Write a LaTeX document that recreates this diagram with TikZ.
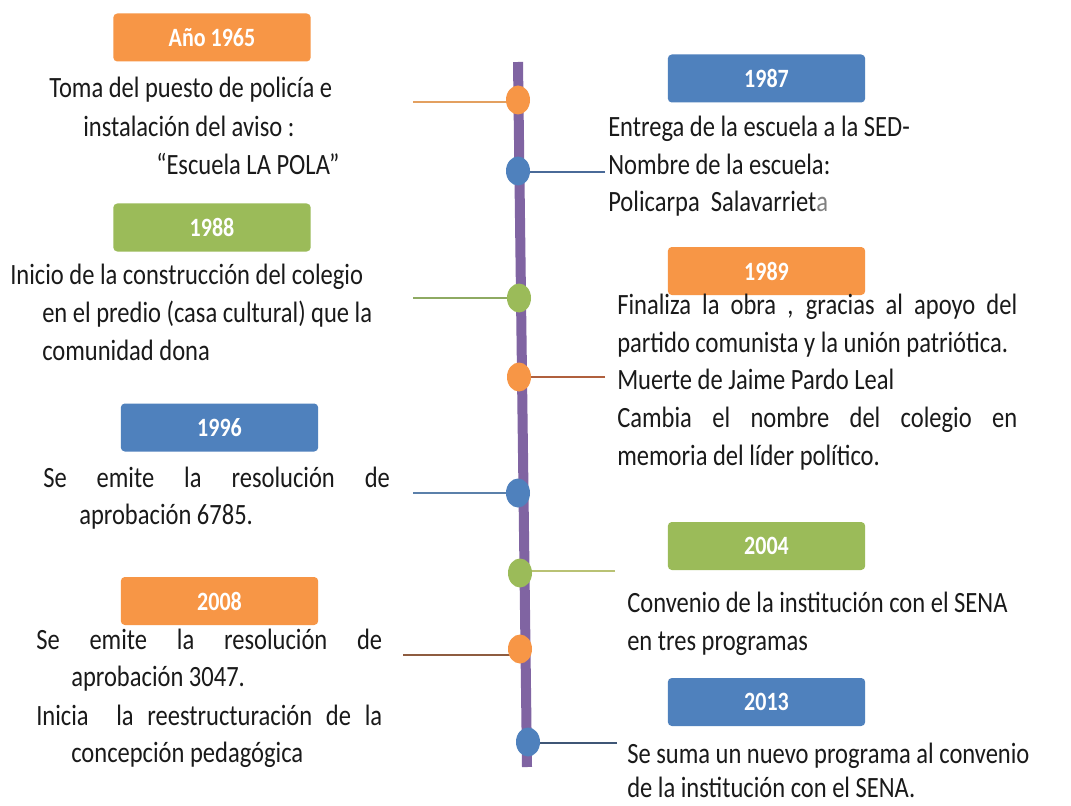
\documentclass[tikz,border=0pt]{standalone}
\usepackage{fontspec}
\setmainfont{Carlito}
\usepackage{graphicx}
\usetikzlibrary{shapes.geometric}
\definecolor{tlpurple}{HTML}{8064A2}
\definecolor{yorange}{HTML}{F79646}
\definecolor{ygreen}{HTML}{9BBB59}
\definecolor{yblue}{HTML}{4F81BD}
\definecolor{txtcol}{HTML}{1A1A1A}
\definecolor{lnA}{HTML}{E3A060}
\definecolor{lnB}{HTML}{4A6A98}
\definecolor{lnC}{HTML}{8EAA62}
\definecolor{lnD}{HTML}{B0603E}
\definecolor{lnE}{HTML}{5B80AA}
\definecolor{lnF}{HTML}{B9C274}
\definecolor{lnG}{HTML}{8E5C40}
\definecolor{lnH}{HTML}{3F5676}
\newcommand\vs[1]{\scalebox{1}[1.2]{#1}}
\newcommand\jl[2]{\scalebox{1}[1.2]{\makebox[#1][s]{#2}}}
\begin{document}
\begin{tikzpicture}[x=0.75pt,y=-0.75pt,
  yearbox/.style={rounded corners=3pt, minimum width=148pt, minimum height=36pt, inner sep=0pt, text=white, font=\fontsize{16.5}{18}\selectfont\bfseries},
  dot/.style={ellipse, minimum width=18pt, minimum height=21.75pt, inner sep=0pt},
  txt/.style={anchor=base west, inner sep=0pt, text=txtcol, font=\fontsize{18.4}{22}\selectfont},
  conn/.style={line width=1.1pt},
  timeline/.style={line width=7.5pt, tlpurple}]
\useasboundingbox (0,0) rectangle (1071,806);
\fill[white] (0,0) rectangle (1071,806);

% timeline
\coordinate (top) at (518,62);
\coordinate (bot) at (527,767);
\draw[timeline] (top) -- (bot);

% dot centres
\coordinate (p1) at (518,100);
\coordinate (p2) at (518,171);
\coordinate (p3) at (519,298);
\coordinate (p4) at (519,377);
\coordinate (p5) at (518,493);
\coordinate (p6) at (520,573);
\coordinate (p7) at (520,649);
\coordinate (p8) at (528,742);

% connector free ends
\coordinate (e1) at (413,102);
\coordinate (e2) at (605,172);
\coordinate (e3) at (413,298);
\coordinate (e4) at (605,377);
\coordinate (e5) at (413,493);
\coordinate (e6) at (615,571);
\coordinate (e7) at (403,655);
\coordinate (e8) at (617,743);

\draw[conn, lnA] (e1) -- (e1 -| p1);
\draw[conn, lnB] (e2) -- (e2 -| p2);
\draw[conn, lnC] (e3) -- (e3 -| p3);
\draw[conn, lnD] (e4) -- (e4 -| p4);
\draw[conn, lnE] (e5) -- (e5 -| p5);
\draw[conn, lnF] (e6) -- (e6 -| p6);
\draw[conn, lnG] (e7) -- (e7 -| p7);
\draw[conn, lnH] (e8) -- (e8 -| p8);

\node[dot, fill=yorange] (d1) at (p1) {};
\node[dot, fill=yblue]   (d2) at (p2) {};
\node[dot, fill=ygreen]  (d3) at (p3) {};
\node[dot, fill=yorange] (d4) at (p4) {};
\node[dot, fill=yblue]   (d5) at (p5) {};
\node[dot, fill=ygreen]  (d6) at (p6) {};
\node[dot, fill=yorange] (d7) at (p7) {};
\node[dot, fill=yblue]   (d8) at (p8) {};

% year boxes
\node[yearbox, fill=yorange] (y1965) at (212,37.5) {\vs{Año 1965}};
\node[yearbox, fill=yblue]   (y1987) at (766.5,78.5) {\vs{1987}};
\node[yearbox, fill=ygreen]  (y1988) at (212,227.5) {\vs{1988}};
\node[yearbox, fill=yorange] (y1989) at (766.5,271) {\vs{1989}};
\node[yearbox, fill=yblue]   (y1996) at (219.5,427.5) {\vs{1996}};
\node[yearbox, fill=ygreen]  (y2004) at (766.5,546) {\vs{2004}};
\node[yearbox, fill=yorange] (y2008) at (219.5,601) {\vs{2008}};
\node[yearbox, fill=yblue]   (y2013) at (766.5,702) {\vs{2013}};

% texts 1965
\node[txt] (t1a) at (49,98)  {\vs{Toma del puesto de policía e}};
\node[txt] (t1b) at (83,137) {\vs{instalación del aviso :}};
\node[txt] (t1c) at (156,175) {\vs{“Escuela LA POLA”}};
% texts 1987
\node[txt] (t2a) at (608,137) {\vs{Entrega de la escuela a la SED-}};
\node[txt] (t2b) at (608,175) {\vs{Nombre de la escuela:}};
\node[txt] (t2c) at (608,212) {\vs{Policarpa\ \ Salavarriet\textcolor{gray}{a}}};
% texts 1988
\node[txt] (t3a) at (10,284) {\vs{Inicio de la construcción del colegio}};
\node[txt] (t3b) at (42,322) {\vs{en el predio (casa cultural) que la}};
\node[txt] (t3c) at (42,360) {\vs{comunidad dona}};
% texts 1989
\node[txt] (t4a) at (617,314) {\jl{300pt}{Finaliza la obra , gracias al apoyo del}};
\node[txt] (t4b) at (617,352) {\vs{partido comunista y la unión patriótica.}};
\node[txt] (t4c) at (617,389) {\vs{Muerte de Jaime Pardo Leal}};
\node[txt] (t4d) at (617,427) {\jl{300pt}{Cambia el nombre del colegio en}};
\node[txt] (t4e) at (617,465) {\vs{memoria del líder político.}};
% texts 1996
\node[txt] (t5a) at (43,487) {\jl{260pt}{Se emite la resolución de}};
\node[txt] (t5b) at (79,524) {\vs{aprobación 6785.}};
% texts 2004
\node[txt] (t6a) at (627,612) {\vs{Convenio de la institución con el SENA}};
\node[txt] (t6b) at (627,650) {\vs{en tres programas}};
% texts 2008
\node[txt] (t7a) at (36,649) {\jl{259.5pt}{Se emite la resolución de}};
\node[txt] (t7b) at (71,686) {\vs{aprobación 3047.}};
\node[txt] (t7c) at (36,725) {\jl{259.5pt}{Inicia\ \ la reestructuración de la}};
\node[txt] (t7d) at (71,762) {\vs{concepción pedagógica}};
% texts 2013
\node[txt] (t8a) at (627,763) {\vs{Se suma un nuevo programa al convenio}};
\node[txt] (t8b) at (627,797) {\vs{de la institución con el SENA.}};
\end{tikzpicture}
\end{document}
